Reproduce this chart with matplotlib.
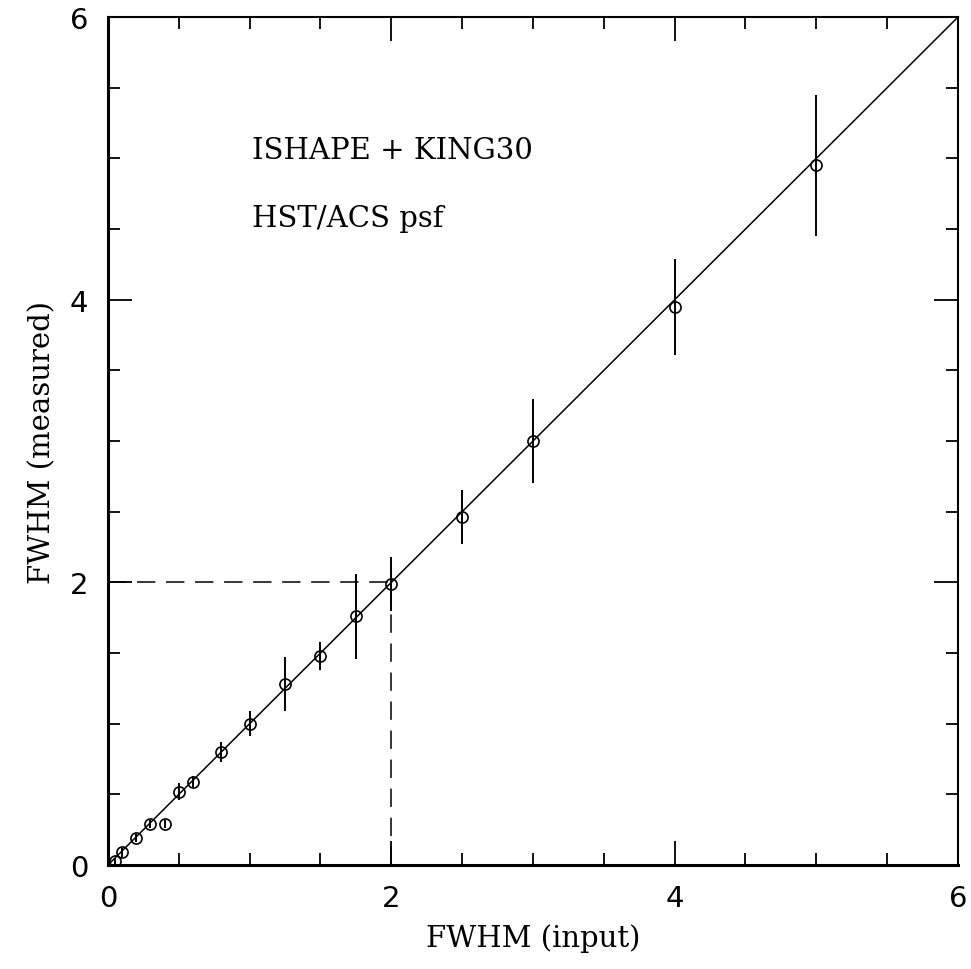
import matplotlib
matplotlib.use("Agg")
import matplotlib.pyplot as plt

# measured vs input FWHM
fwhm_in = [0.05, 0.1, 0.2, 0.3, 0.4, 0.5, 0.6, 0.8, 1.0, 1.25, 1.5, 1.75, 2.0, 2.5, 3.0, 4.0, 5.0]
fwhm_out = [0.03, 0.09, 0.19, 0.29, 0.29, 0.52, 0.59, 0.80, 1.0, 1.28, 1.48, 1.76, 1.99, 2.46, 3.0, 3.95, 4.95]
fwhm_err = [0.02, 0.03, 0.03, 0.03, 0.03, 0.06, 0.04, 0.07, 0.09, 0.19, 0.10, 0.30, 0.19, 0.19, 0.30, 0.34, 0.50]
major_ticks = [0, 2, 4, 6]
minor_ticks = [0.5, 1, 1.5, 2.5, 3, 3.5, 4.5, 5, 5.5]

fig = plt.figure(figsize=(9.71, 9.70), dpi=100)
ax = fig.add_axes([0.1112, 0.1072, 0.8754, 0.8742])

# one-to-one line and the 2,2 guide
ax.plot([0, 6], [0, 6], color="black", lw=1.1)
ax.plot([0, 2], [2, 2], color="black", lw=1.1, ls=(0, (12, 7)))
ax.plot([2, 2], [0, 2], color="black", lw=1.1, ls=(0, (12, 7)))

ax.errorbar(fwhm_in, fwhm_out, yerr=fwhm_err, fmt="o", ms=8, mfc="none",
            mec="black", mew=1.2, ecolor="black", elinewidth=1.4, capsize=0)

ax.set_xlim(0, 6)
ax.set_ylim(0, 6)
ax.set_xticks(major_ticks)
ax.set_yticks(major_ticks)
ax.set_xticks(minor_ticks, minor=True)
ax.set_yticks(minor_ticks, minor=True)
ax.tick_params(which="both", direction="in", top=True, right=True, width=1.3)
ax.tick_params(which="major", length=17, pad=14, labelsize=21)
ax.tick_params(which="minor", length=8.5)
for lab in ax.get_xticklabels() + ax.get_yticklabels():
    lab.set_fontfamily("DejaVu Sans")

for side in ["left", "bottom"]:
    ax.spines[side].set_linewidth(2.2)
for side in ["right", "top"]:
    ax.spines[side].set_linewidth(1.5)

ax.set_xlabel("FWHM (input)", family="DejaVu Serif", fontsize=21, labelpad=8)
ax.set_ylabel("FWHM (measured)", family="DejaVu Serif", fontsize=21, labelpad=10)

ax.text(1.02, 5.06, "ISHAPE + KING30", family="DejaVu Serif", fontsize=21, va="center")
ax.text(1.02, 4.58, "HST/ACS psf", family="DejaVu Serif", fontsize=21, va="center")

fig.savefig("out.png", dpi=100)
